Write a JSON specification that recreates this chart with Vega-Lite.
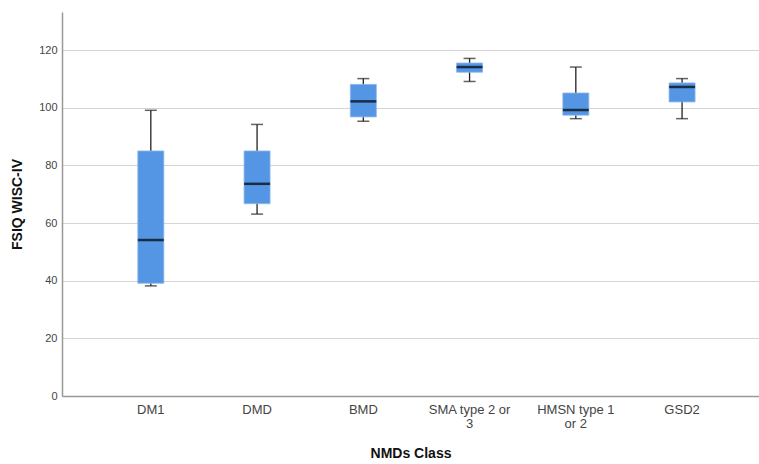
{
  "$schema": "https://vega.github.io/schema/vega-lite/v6.json",
  "width": 697,
  "height": 384,
  "autosize": "none",
  "padding": {"left": 62, "top": 12, "right": 0, "bottom": 68},
  "background": "white",
  "config": {"view": {"stroke": null}, "font": "Liberation Sans"},
  "data": {
    "values": [
      {"cls": "DM1", "min": 38.2, "q1": 39.1, "median": 54.1, "q3": 85, "max": 99.1},
      {"cls": "DMD", "min": 63.1, "q1": 66.7, "median": 73.6, "q3": 85, "max": 94.2},
      {"cls": "BMD", "min": 95.3, "q1": 96.8, "median": 102.2, "q3": 108.1, "max": 110.1},
      {"cls": "SMA type 2 or 3", "min": 109.1, "q1": 112.3, "median": 114.1, "q3": 115.5, "max": 117.1},
      {"cls": "HMSN type 1 or 2", "min": 96.2, "q1": 97.4, "median": 99.2, "q3": 105.1, "max": 114.1},
      {"cls": "GSD2", "min": 96.2, "q1": 102, "median": 107.2, "q3": 108.6, "max": 110.1}
    ]
  },
  "encoding": {
    "x": {
      "field": "cls",
      "type": "nominal",
      "sort": null,
      "scale": {"paddingInner": 0, "paddingOuter": 0.28, "align": 0.6},
      "axis": {
        "title": "NMDs Class",
        "titleFontSize": 14,
        "titleFontWeight": "bold",
        "titleColor": "#111",
        "titlePadding": 16,
        "labelAngle": 0,
        "labelFontSize": 13,
        "labelColor": "#444",
        "labelPadding": 7,
        "labelLineHeight": 14,
        "labelExpr": "datum.value == 'SMA type 2 or 3' ? ['SMA type 2 or', '3'] : datum.value == 'HMSN type 1 or 2' ? ['HMSN type 1', 'or 2'] : datum.label",
        "ticks": false,
        "domainColor": "#999",
        "domainWidth": 1.5,
        "grid": false
      }
    }
  },
  "layer": [
    {
      "mark": {"type": "rule", "color": "#222", "strokeWidth": 1.3},
      "encoding": {
        "y": {
          "field": "min",
          "type": "quantitative",
          "scale": {"domain": [0, 133.2], "nice": false},
          "axis": {
            "title": "FSIQ WISC-IV",
            "titleFontSize": 14,
            "titleFontWeight": "bold",
            "titleColor": "#111",
            "titlePadding": 14,
            "values": [0, 20, 40, 60, 80, 100, 120],
            "labelFontSize": 11,
            "labelColor": "#444",
            "labelPadding": 5,
            "ticks": false,
            "domainColor": "#999",
            "domainWidth": 1.5,
            "gridColor": "#d4d4d4",
            "gridWidth": 1.2
          }
        },
        "y2": {"field": "max"}
      }
    },
    {
      "mark": {"type": "bar", "size": 26, "color": "#5496e3", "stroke": "#8cb8ee", "strokeWidth": 0.8},
      "encoding": {
        "y": {"field": "q1", "type": "quantitative"},
        "y2": {"field": "q3"}
      }
    },
    {
      "mark": {"type": "tick", "size": 12, "thickness": 1.5, "color": "#222"},
      "encoding": {"y": {"field": "min", "type": "quantitative"}}
    },
    {
      "mark": {"type": "tick", "size": 12, "thickness": 1.5, "color": "#222"},
      "encoding": {"y": {"field": "max", "type": "quantitative"}}
    },
    {
      "mark": {"type": "tick", "size": 26, "thickness": 2.5, "color": "#000"},
      "encoding": {"y": {"field": "median", "type": "quantitative"}}
    }
  ]
}
